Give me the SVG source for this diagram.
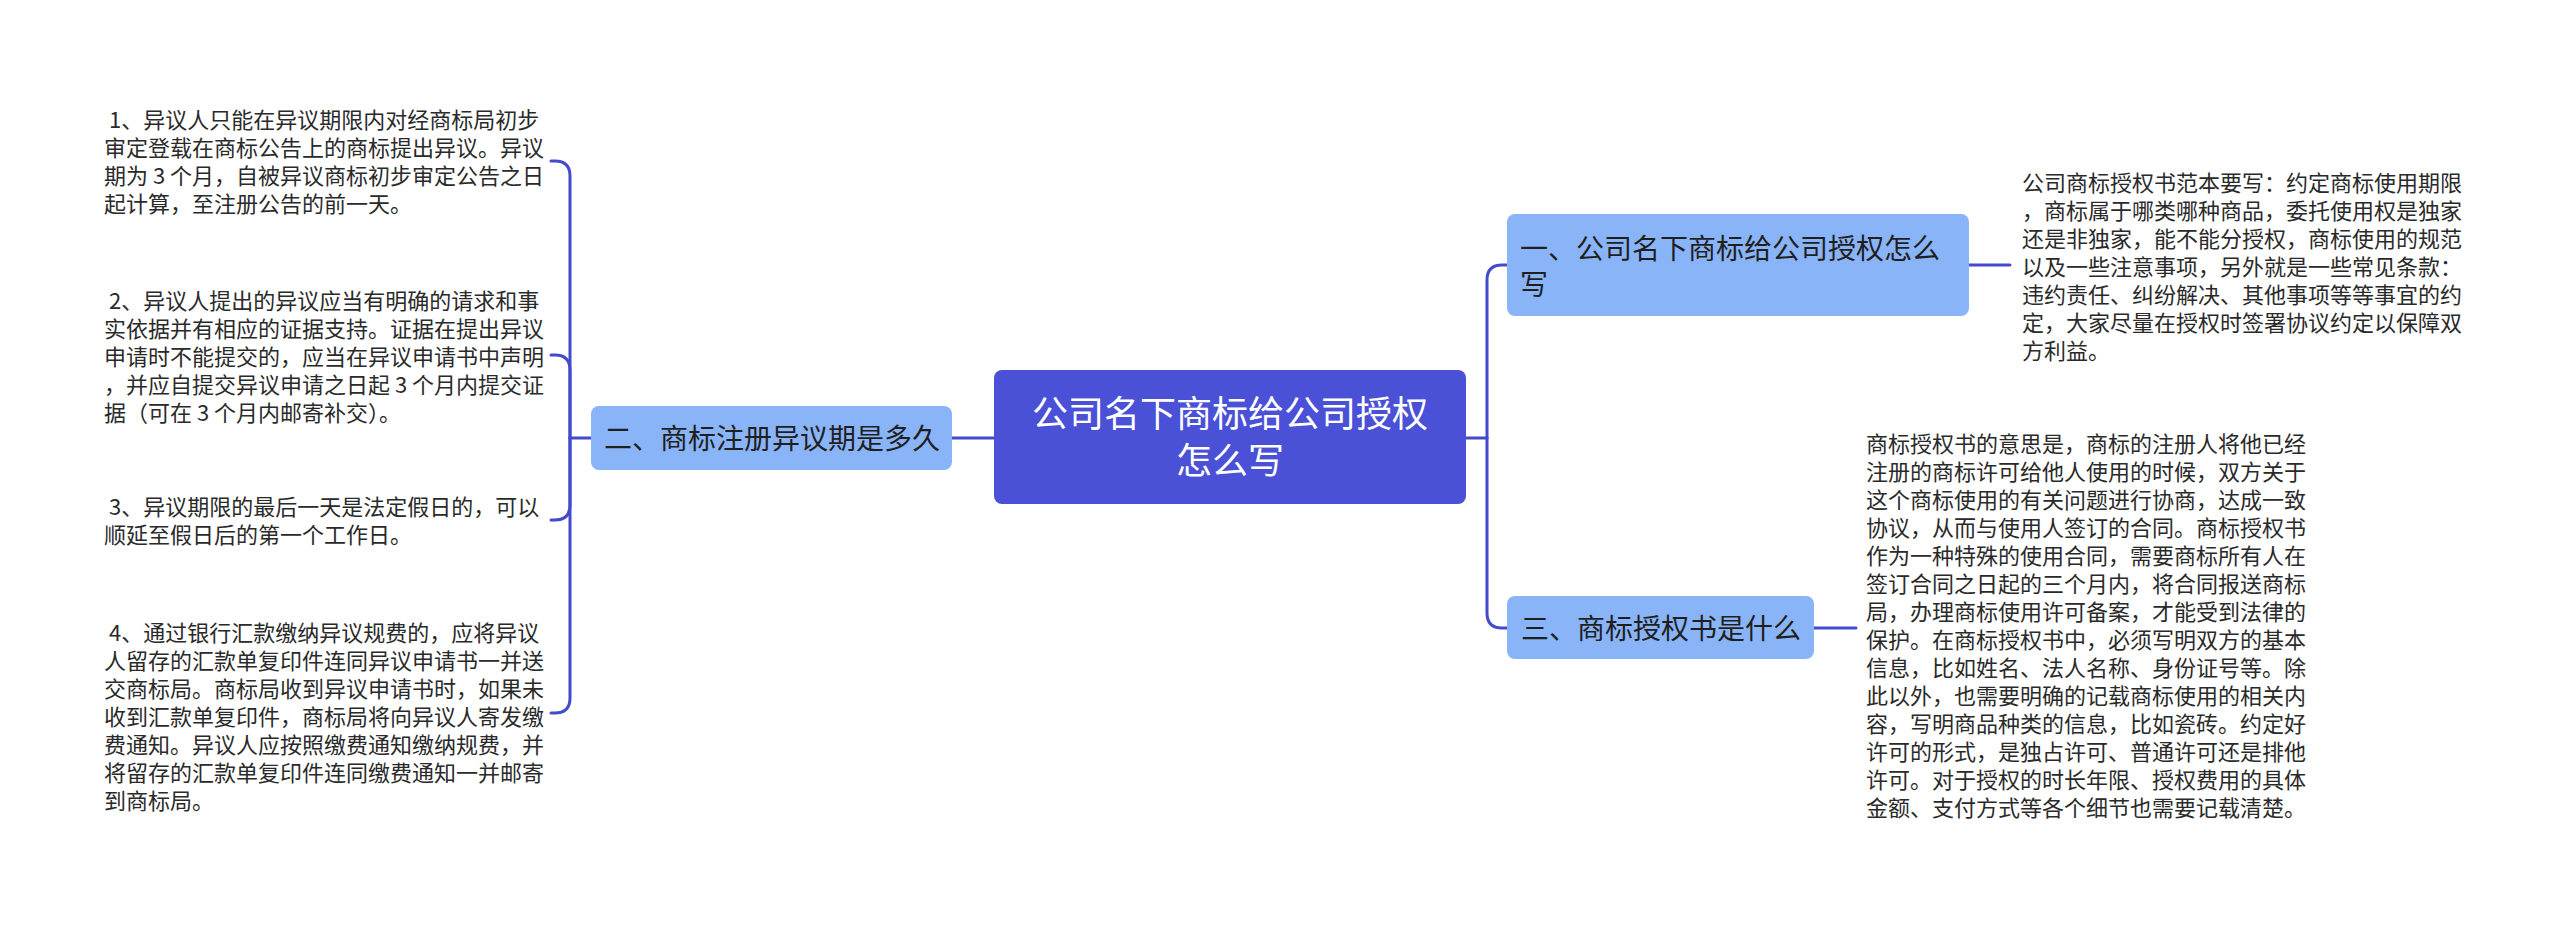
<svg xmlns="http://www.w3.org/2000/svg" width="2560" height="927" viewBox="0 0 2560 927">
<style>
text{font-family:"Noto Sans CJK SC","Noto Sans",sans-serif;}
.conn{fill:none;stroke:#434acb;stroke-width:3;stroke-linecap:round;}
.root{fill:#4a51d6;}
.l1{fill:#8ab4f8;}
.rt{fill:#ffffff;font-size:36px;text-anchor:middle;}
.t1{fill:#1f1f1f;font-size:28px;}
.tx{fill:#2a2a2a;font-size:22px;}
</style>
<rect width="2560" height="927" fill="#ffffff"/>
<g id="connectors">
<path class="conn" d="M952 438 H994"/>
<path class="conn" d="M591 438 H570"/>
<path class="conn" d="M570 438 V176 Q570 161 555 161 H551"/>
<path class="conn" d="M570 438 V370 Q570 355 555 355 H551"/>
<path class="conn" d="M570 438 V505 Q570 520 555 520 H551"/>
<path class="conn" d="M570 438 V698 Q570 713 555 713 H551"/>
<path class="conn" d="M1466 438 H1487"/>
<path class="conn" d="M1487 438 V280 Q1487 265 1502 265 H1507"/>
<path class="conn" d="M1487 438 V613 Q1487 628 1502 628 H1507"/>
<path class="conn" d="M1969 265 H2010"/>
<path class="conn" d="M1814 628 H1856"/>
</g>
<g id="root">
<rect class="root" x="994" y="370" width="472" height="134" rx="8"/>
<text class="rt" x="1230" y="427">公司名下商标给公司授权</text>
<text class="rt" x="1230" y="474">怎么写</text>
</g>
<g id="node-2">
<rect class="l1" x="591" y="406" width="361" height="64" rx="8"/>
<text class="t1" x="604" y="449">二、商标注册异议期是多久</text>
</g>
<g id="node-1">
<rect class="l1" x="1507" y="214" width="462" height="102" rx="8"/>
<text class="t1" x="1520" y="259">一、公司名下商标给公司授权怎么</text>
<text class="t1" x="1520" y="295">写</text>
</g>
<g id="node-3">
<rect class="l1" x="1507" y="596" width="307" height="63" rx="8"/>
<text class="t1" x="1521" y="639">三、商标授权书是什么</text>
</g>
<g id="text-2-1">
<text class="tx" x="104" y="128" xml:space="preserve"> 1、异议人只能在异议期限内对经商标局初步</text>
<text class="tx" x="104" y="156">审定登载在商标公告上的商标提出异议。异议</text>
<text class="tx" x="104" y="184" xml:space="preserve">期为 3 个月，自被异议商标初步审定公告之日</text>
<text class="tx" x="104" y="212">起计算，至注册公告的前一天。</text>
</g>
<g id="text-2-2">
<text class="tx" x="104" y="309" xml:space="preserve"> 2、异议人提出的异议应当有明确的请求和事</text>
<text class="tx" x="104" y="337">实依据并有相应的证据支持。证据在提出异议</text>
<text class="tx" x="104" y="365">申请时不能提交的，应当在异议申请书中声明</text>
<text class="tx" x="104" y="393" xml:space="preserve">，并应自提交异议申请之日起 3 个月内提交证</text>
<text class="tx" x="104" y="421" xml:space="preserve">据（可在 3 个月内邮寄补交）。</text>
</g>
<g id="text-2-3">
<text class="tx" x="104" y="515" xml:space="preserve"> 3、异议期限的最后一天是法定假日的，可以</text>
<text class="tx" x="104" y="543">顺延至假日后的第一个工作日。</text>
</g>
<g id="text-2-4">
<text class="tx" x="104" y="641" xml:space="preserve"> 4、通过银行汇款缴纳异议规费的，应将异议</text>
<text class="tx" x="104" y="669">人留存的汇款单复印件连同异议申请书一并送</text>
<text class="tx" x="104" y="697">交商标局。商标局收到异议申请书时，如果未</text>
<text class="tx" x="104" y="725">收到汇款单复印件，商标局将向异议人寄发缴</text>
<text class="tx" x="104" y="753">费通知。异议人应按照缴费通知缴纳规费，并</text>
<text class="tx" x="104" y="781">将留存的汇款单复印件连同缴费通知一并邮寄</text>
<text class="tx" x="104" y="809">到商标局。</text>
</g>
<g id="text-1">
<text class="tx" x="2022" y="191">公司商标授权书范本要写：约定商标使用期限</text>
<text class="tx" x="2022" y="219">，商标属于哪类哪种商品，委托使用权是独家</text>
<text class="tx" x="2022" y="247">还是非独家，能不能分授权，商标使用的规范</text>
<text class="tx" x="2022" y="275">以及一些注意事项，另外就是一些常见条款：</text>
<text class="tx" x="2022" y="303">违约责任、纠纷解决、其他事项等等事宜的约</text>
<text class="tx" x="2022" y="331">定，大家尽量在授权时签署协议约定以保障双</text>
<text class="tx" x="2022" y="359">方利益。</text>
</g>
<g id="text-3">
<text class="tx" x="1866" y="452">商标授权书的意思是，商标的注册人将他已经</text>
<text class="tx" x="1866" y="480">注册的商标许可给他人使用的时候，双方关于</text>
<text class="tx" x="1866" y="508">这个商标使用的有关问题进行协商，达成一致</text>
<text class="tx" x="1866" y="536">协议，从而与使用人签订的合同。商标授权书</text>
<text class="tx" x="1866" y="564">作为一种特殊的使用合同，需要商标所有人在</text>
<text class="tx" x="1866" y="592">签订合同之日起的三个月内，将合同报送商标</text>
<text class="tx" x="1866" y="620">局，办理商标使用许可备案，才能受到法律的</text>
<text class="tx" x="1866" y="648">保护。在商标授权书中，必须写明双方的基本</text>
<text class="tx" x="1866" y="676">信息，比如姓名、法人名称、身份证号等。除</text>
<text class="tx" x="1866" y="704">此以外，也需要明确的记载商标使用的相关内</text>
<text class="tx" x="1866" y="732">容，写明商品种类的信息，比如瓷砖。约定好</text>
<text class="tx" x="1866" y="760">许可的形式，是独占许可、普通许可还是排他</text>
<text class="tx" x="1866" y="788">许可。对于授权的时长年限、授权费用的具体</text>
<text class="tx" x="1866" y="816">金额、支付方式等各个细节也需要记载清楚。</text>
</g>
</svg>
